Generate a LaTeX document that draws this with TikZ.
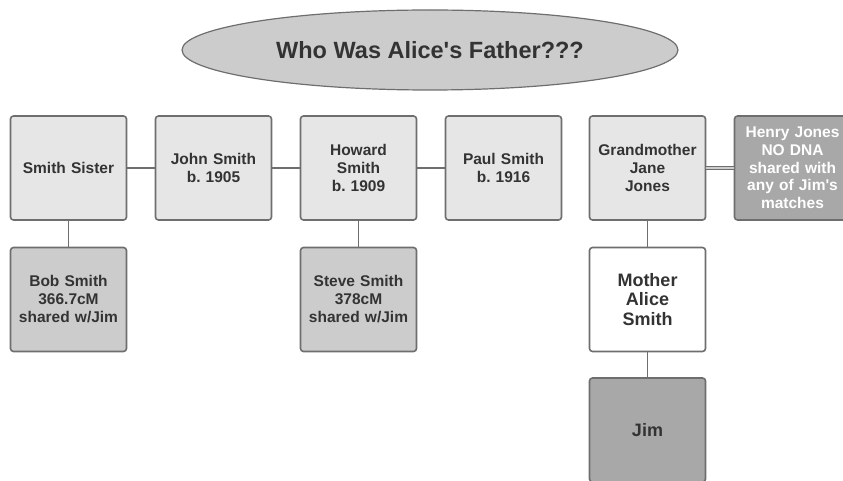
\documentclass[tikz,border=0pt]{standalone}
\usepackage{fontspec}
\setmainfont{Liberation Sans}
\usetikzlibrary{shapes.geometric}
\definecolor{txt}{HTML}{333333}
\definecolor{bord}{HTML}{6E6E6E}
\definecolor{lightf}{HTML}{E6E6E6}
\definecolor{midf}{HTML}{CCCCCC}
\definecolor{darkf}{HTML}{A8A8A8}
\begin{document}
\frenchspacing
\begin{tikzpicture}[x=1pt,y=-1pt,
  box/.style={draw=bord, line width=1.6pt, rounded corners=3pt, minimum width=116pt, minimum height=104pt, inner sep=1pt, align=center, text=txt, font=\fontsize{15.5}{18}\selectfont\bfseries, text width=114pt},
  lbox/.style={box, fill=lightf},
  mbox/.style={box, fill=midf},
  dbox/.style={box, fill=darkf},
  wbox/.style={box, fill=white},
  big/.style={font=\fontsize{18}{19.5}\selectfont\bfseries},
  link/.style={draw=bord, line width=1.5pt}]
\useasboundingbox (0,0) rectangle (843,481);
\clip (0,0) rectangle (843,481);
\node[ellipse, draw=bord, line width=1.2pt, fill=midf, minimum width=496pt, minimum height=80pt, text=txt, font=\fontsize{23.5}{26}\selectfont\bfseries] (title) at (430,50) {Who Was Alice\textquotesingle s Father???};
\node[lbox] (sister) at (68.5,168) {Smith Sister};
\node[lbox] (john) at (213.5,168) {John Smith\\b. 1905};
\node[lbox] (howard) at (358.5,168) {Howard\\Smith\\b. 1909};
\node[lbox] (paul) at (503.5,168) {Paul Smith\\b. 1916};
\node[lbox] (grand) at (647.5,168) {Grandmother\\Jane\\Jones};
\node[dbox, text=white, font=\fontsize{15.5}{17.7}\selectfont\bfseries] (henry) at (792.5,168) {Henry Jones\\NO DNA\\shared with\\any of Jim\textquotesingle s\\matches};
\node[mbox] (bob) at (68.5,299.5) {Bob Smith\\366.7cM\\shared w/Jim};
\node[mbox] (steve) at (358.5,299.5) {Steve Smith\\378cM\\shared w/Jim};
\node[wbox, big] (mother) at (647.5,299.5) {Mother\\Alice\\Smith};
\node[dbox, big] (jim) at (647.5,430) {Jim};
\draw[link] (sister) -- (john);
\draw[link] (john) -- (howard);
\draw[link] (howard) -- (paul);
\draw[link] (sister) -- (bob);
\draw[link] (howard) -- (steve);
\draw[link] (grand) -- (mother);
\draw[link] (mother) -- (jim);
\draw[draw=bord, line width=1pt, double=midf, double distance=2pt] (grand) -- (henry);
\end{tikzpicture}
\end{document}
